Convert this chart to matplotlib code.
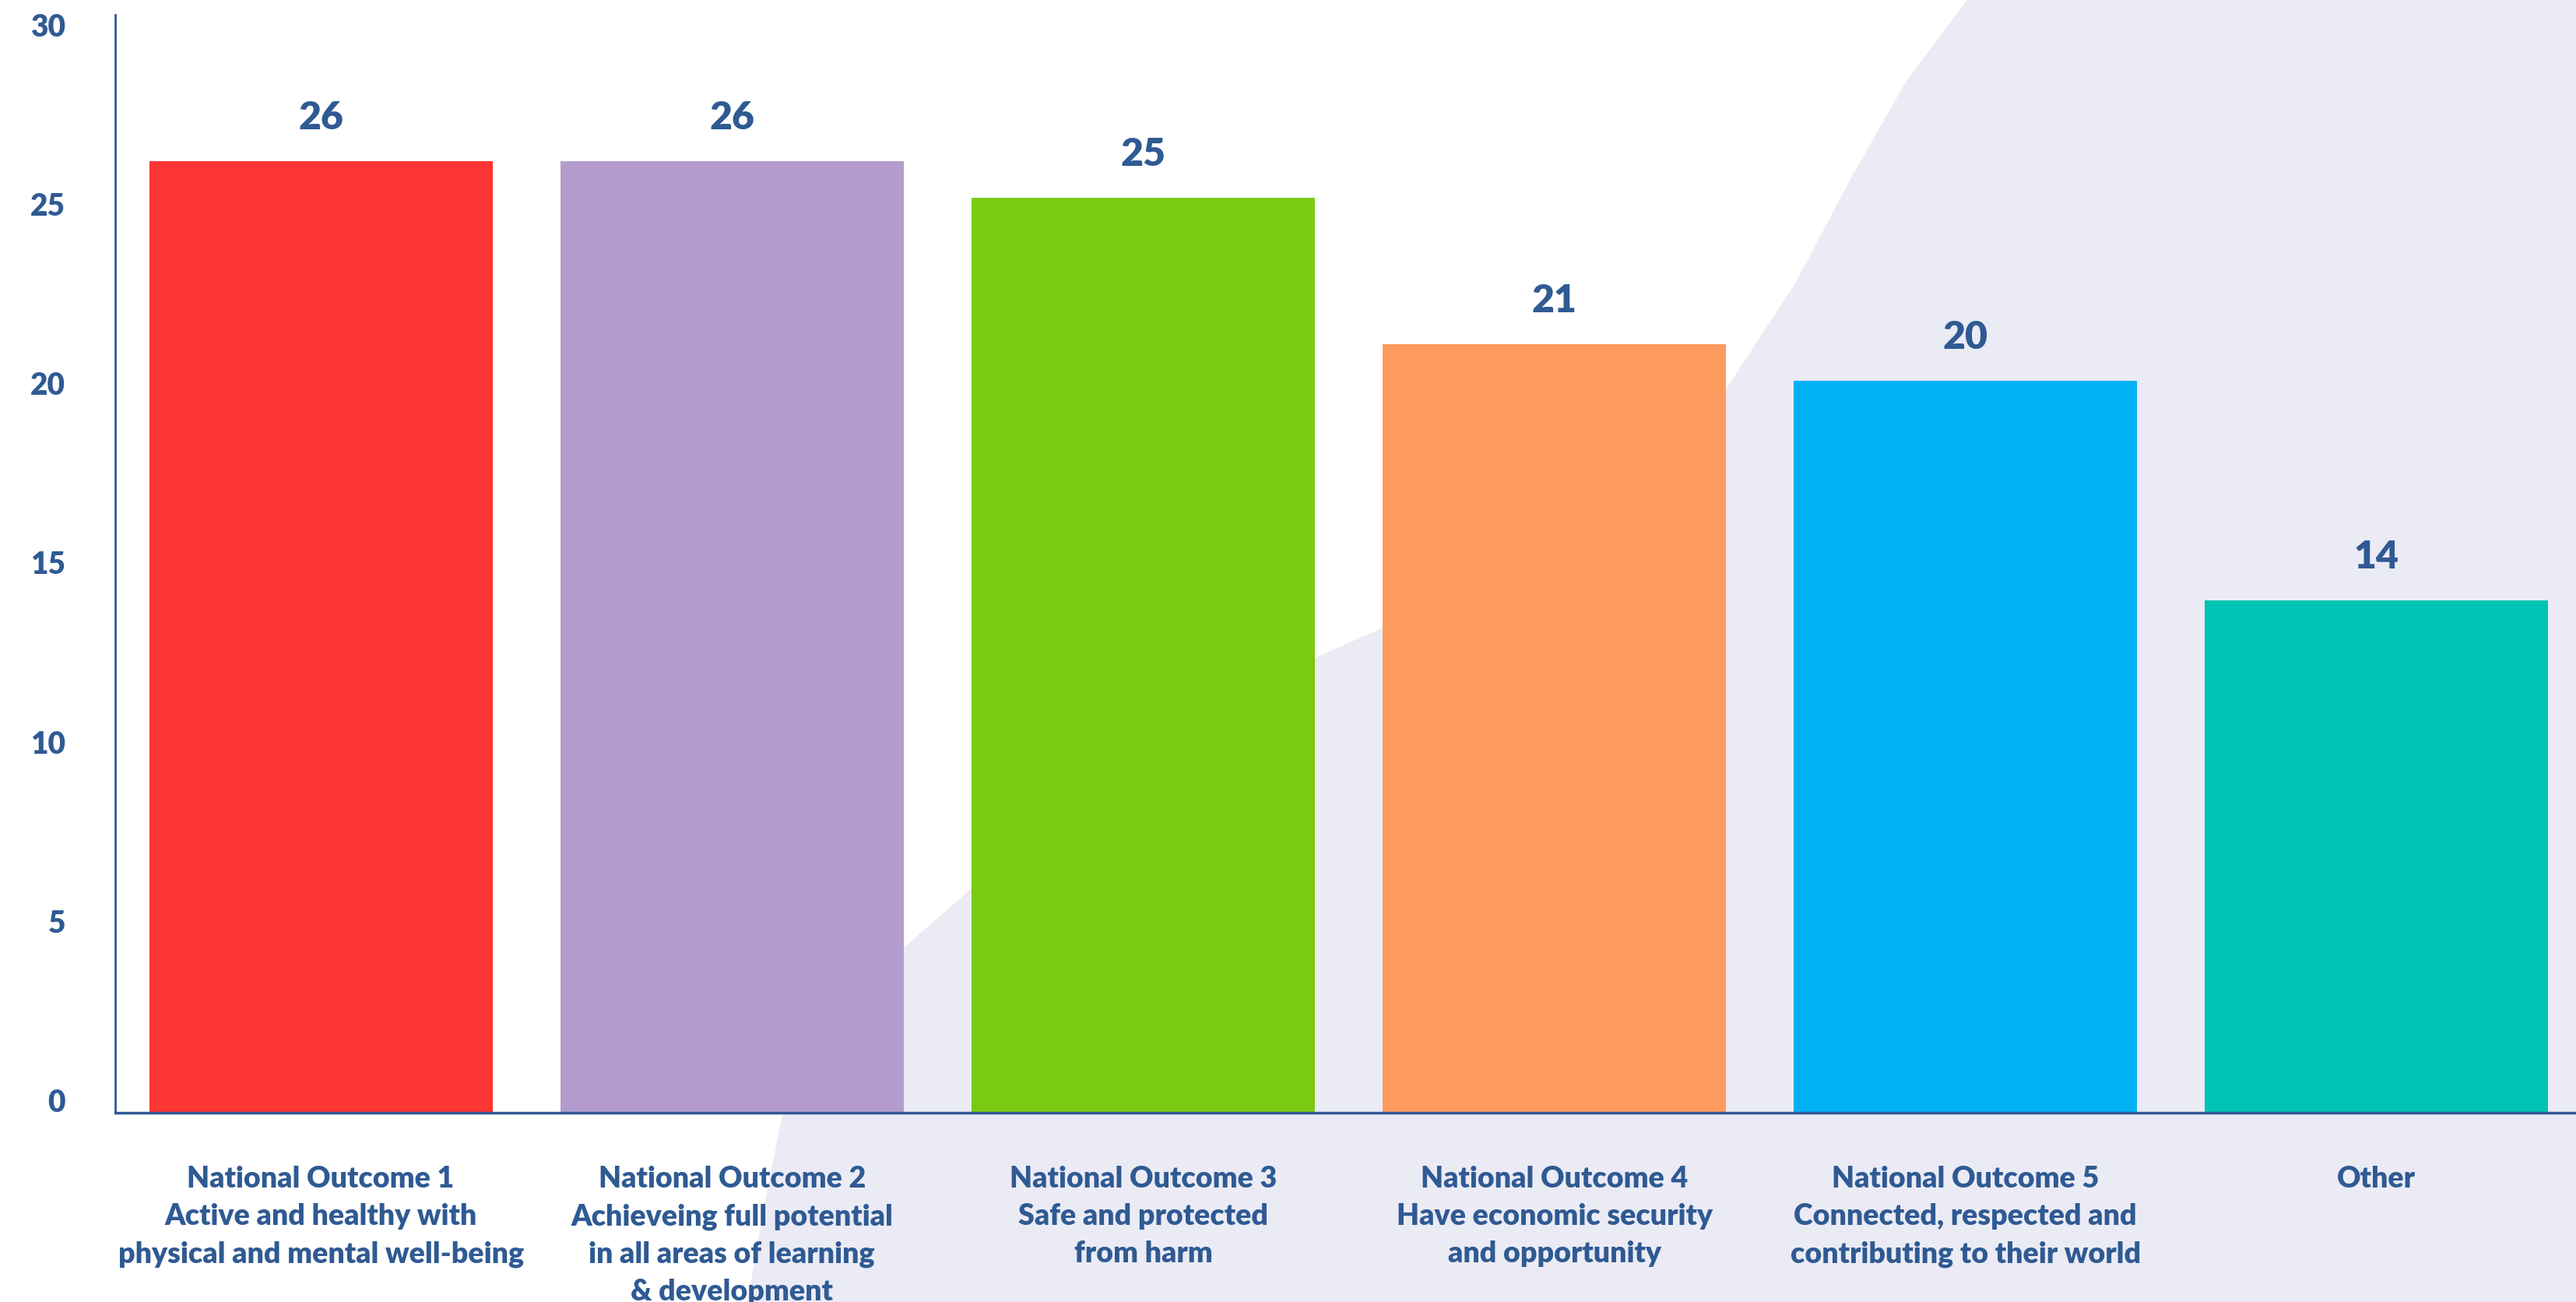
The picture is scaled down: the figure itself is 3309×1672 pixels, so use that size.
import matplotlib
matplotlib.use("Agg")
import matplotlib.pyplot as plt
from matplotlib.patches import Polygon

# data
categories = [
    "National Outcome 1\nActive and healthy with\nphysical and mental well-being",
    "National Outcome 2\nAchieveing full potential\nin all areas of learning\n& development",
    "National Outcome 3\nSafe and protected\nfrom harm",
    "National Outcome 4\nHave economic security\nand opportunity",
    "National Outcome 5\nConnected, respected and\ncontributing to their world",
    "Other",
]
values = [26, 26, 25, 21, 20, 14]
bar_colors = ["#FD3533", "#B39CCD", "#7AC912", "#FF9A5E", "#00B1F4", "#00C3B5"]
y_ticks = [0, 5, 10, 15, 20, 25, 30]

text_color = "#2F5A93"
blob_color = "#EBEBF5"

W, H = 3309, 1672
fig = plt.figure(figsize=(W / 100, H / 100), dpi=100)
fig.patch.set_facecolor("white")

# decorative background swoosh (figure pixel coords)
blob_px = [(960, 1672), (985, 1530), (1005, 1432), (1070, 1310), (1161, 1217),
           (1249, 1140), (1350, 1060), (1450, 985), (1600, 890), (1700, 840),
           (1779, 805), (1900, 750), (2020, 690), (2120, 610), (2219, 497),
           (2306, 364), (2377, 230), (2447, 107), (2527, 0), (W, 0), (W, H)]
blob = Polygon([(x / W, 1 - y / H) for x, y in blob_px], closed=True,
               transform=fig.transFigure, facecolor=blob_color, edgecolor="none", zorder=-5)
fig.patches.append(blob)

ax = fig.add_axes([148 / W, 1 - 1429 / H, 1 - 148 / W, (1429 - 19) / H])
ax.set_facecolor("none")
ax.set_zorder(1)

x = list(range(len(values)))
bars = ax.bar(x, values, width=0.835, color=bar_colors, zorder=2)

font = "Lato"
for xi, v in zip(x, values):
    ax.annotate(str(v), (xi, v), xytext=(0, 40), textcoords="offset points",
                ha="center", va="center", fontsize=36, fontweight="heavy",
                color=text_color, family=font)

ax.set_xlim(-0.5, 5.485)
ax.set_ylim(0, 30)
ax.set_yticks(y_ticks)
ax.set_yticklabels([])
# y labels drawn by hand: in the reference they sit slightly squeezed toward the middle
for t in y_ticks:
    ax.annotate(str(t), (0, t), xycoords=("axes fraction", "data"),
                xytext=(-46, (13 - t) / 1.389), textcoords="offset points",
                ha="right", va="center", fontsize=28, fontweight="heavy",
                color=text_color, family=font, annotation_clip=False)

ax.set_xticks(x)
ax.set_xticklabels(categories, fontsize=27, fontweight="heavy", color=text_color,
                   family=font, linespacing=1.5, ha="center", va="top")
ax.tick_params(axis="both", length=0)
ax.tick_params(axis="x", pad=49)

for s in ["top", "right"]:
    ax.spines[s].set_visible(False)
ax.spines["left"].set_color(text_color)
ax.spines["left"].set_linewidth(2)
ax.spines["bottom"].set_color(text_color)
ax.spines["bottom"].set_linewidth(2.5)

plt.savefig("out.png", dpi=100, format="png")
